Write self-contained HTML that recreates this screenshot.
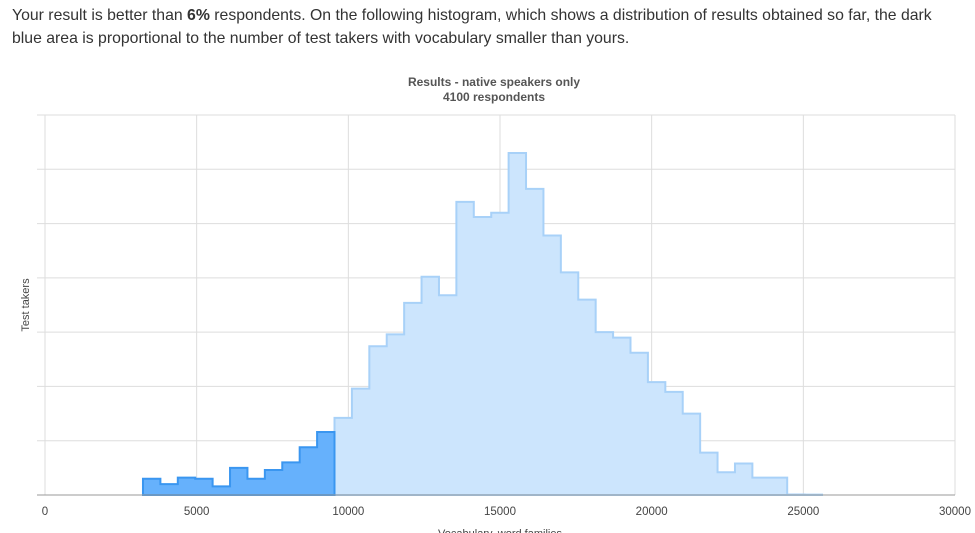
<!DOCTYPE html>
<html><head><meta charset="utf-8"><style>
body{margin:0;background:#fff;width:975px;height:533px;overflow:hidden;font-family:"Liberation Sans",sans-serif}
#intro{position:absolute;left:12px;top:4px;width:960px;font-size:15.8px;line-height:23px;color:#333;white-space:nowrap}
svg{position:absolute;left:0;top:0}
</style></head><body>
<div id="intro">Your result is better than <b>6%</b> respondents. On the following histogram, which shows a distribution of results obtained so far, the dark<br>blue area is proportional to the number of test takers with vocabulary smaller than yours.</div>
<svg id="chart" width="975" height="533"></svg>
<script>
const binStart = 3230;
const binWidth = 574;
const userBins = 11;
const counts = [15,10,16,15,8,25,15,23,30,44,58,71,98,137,148,177,201,184,270,256,260,315,282,239,205,180,150,145,131,104,95,75,39,21,29,16,16,0.5,0.3];
const xTicks = [0,5000,10000,15000,20000,25000,30000];
const yGrid = [0,50,100,150,200,250,300,350];
const ns="http://www.w3.org/2000/svg";
const svg=document.getElementById('chart');
const X0=45,X1=955,Y0=495,Y1=115;
const xs=v=>X0+(v-0)/30000*(X1-X0);
const ys=v=>Y0-v/350*(Y0-Y1);
function mk(t,a){const e=document.createElementNS(ns,t);for(const k in a)e.setAttribute(k,a[k]);svg.appendChild(e);return e;}
yGrid.forEach(v=>{const l=mk('line',{x1:37,x2:955,y1:ys(v),y2:ys(v),stroke:'#ddd','stroke-width':1});

});
xTicks.forEach(v=>{const l=mk('line',{x1:xs(v),x2:xs(v),y1:Y1,y2:Y0,stroke:'#ddd','stroke-width':1});


const t=mk('text',{x:xs(v),y:515,'text-anchor':'middle','font-size':11.5,fill:'#444'});t.textContent=v;

});
function area(from,to,fill,stroke,name){
  let d='M'+xs(binStart+from*binWidth)+','+Y0;
  for(let i=from;i<to;i++){const a=xs(binStart+i*binWidth),b=xs(binStart+(i+1)*binWidth),y=ys(counts[i]);d+=' L'+a+','+y+' L'+b+','+y;}
  d+=' L'+xs(binStart+to*binWidth)+','+Y0+' Z';
  const p=mk('path',{d:d,fill:fill,stroke:stroke,'stroke-width':2,'stroke-linejoin':'miter'});
  
  
}
area(userBins,counts.length,'#cce5fd','#a8d1f8','others-area');
area(0,userBins,'#66b1fc','#3a96f0','smaller-vocab-area');
const ax=mk('line',{x1:37,x2:955,y1:Y0,y2:Y0,stroke:'#999','stroke-width':1});


const t1=mk('text',{x:494,y:86,'text-anchor':'middle','font-size':12,'font-weight':'bold',fill:'#555'});t1.textContent='Results - native speakers only';


const t2=mk('text',{x:494,y:101,'text-anchor':'middle','font-size':12,'font-weight':'bold',fill:'#555'});t2.textContent='4100 respondents';


const yt=mk('text',{x:29,y:305,'text-anchor':'middle','font-size':11,fill:'#444',transform:'rotate(-90 29 305)'});yt.textContent='Test takers';


const xt=mk('text',{x:500,y:537,'text-anchor':'middle','font-size':11,fill:'#444'});xt.textContent='Vocabulary, word families';


</script>
</body></html>
